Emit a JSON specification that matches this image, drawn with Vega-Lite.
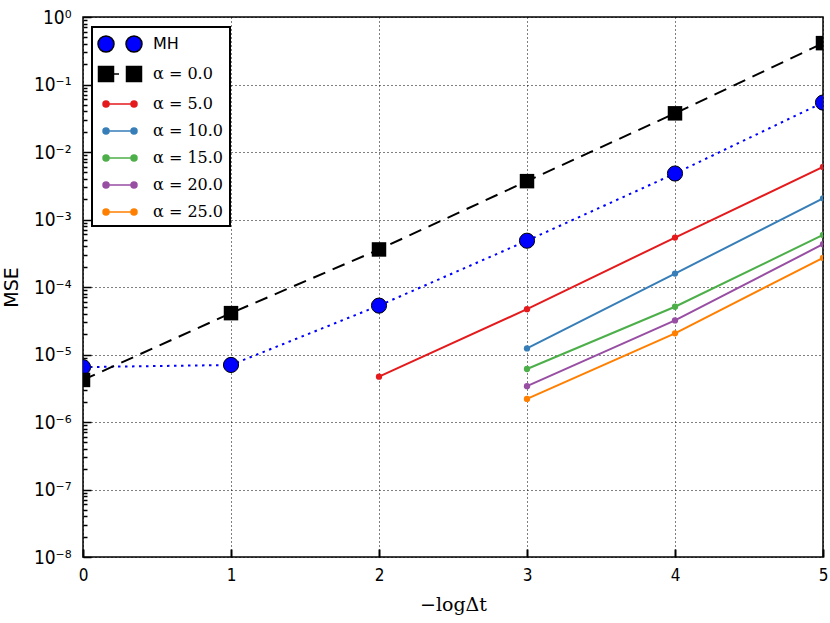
{
  "$schema": "https://vega.github.io/schema/vega-lite/v6.json",
  "width": 740,
  "height": 540,
  "autosize": "none",
  "padding": {"left": 83, "top": 17, "right": 7, "bottom": 66},
  "background": "white",
  "config": {
    "view": {"stroke": "#000", "strokeWidth": 1.5},
    "axis": {
      "domain": false,
      "gridColor": "#000",
      "gridDash": [1, 3],
      "gridOpacity": 1,
      "gridWidth": 1,
      "tickColor": "#000",
      "labelColor": "#000",
      "labelFont": "DejaVu Sans Condensed, DejaVu Sans",
      "titleColor": "#000",
      "titleFontWeight": "normal"
    }
  },
  "data": {
    "values": [
      {"series": "MH", "x": 0, "mse": 6.5e-6},
      {"series": "MH", "x": 1, "mse": 7.0e-6},
      {"series": "MH", "x": 2, "mse": 5.3e-5},
      {"series": "MH", "x": 3, "mse": 4.85e-4},
      {"series": "MH", "x": 4, "mse": 4.8e-3},
      {"series": "MH", "x": 5, "mse": 0.054},
      {"series": "α=0.0", "x": 0, "mse": 4.2e-6},
      {"series": "α=0.0", "x": 1, "mse": 4.1e-5},
      {"series": "α=0.0", "x": 2, "mse": 3.6e-4},
      {"series": "α=0.0", "x": 3, "mse": 3.7e-3},
      {"series": "α=0.0", "x": 4, "mse": 0.0374},
      {"series": "α=0.0", "x": 5, "mse": 0.41},
      {"series": "α=5.0", "x": 2, "mse": 4.7e-6},
      {"series": "α=5.0", "x": 3, "mse": 4.7e-5},
      {"series": "α=5.0", "x": 4, "mse": 5.4e-4},
      {"series": "α=5.0", "x": 5, "mse": 6.0e-3},
      {"series": "α=10.0", "x": 3, "mse": 1.23e-5},
      {"series": "α=10.0", "x": 4, "mse": 1.58e-4},
      {"series": "α=10.0", "x": 5, "mse": 2.06e-3},
      {"series": "α=15.0", "x": 3, "mse": 6.1e-6},
      {"series": "α=15.0", "x": 4, "mse": 5.1e-5},
      {"series": "α=15.0", "x": 5, "mse": 5.9e-4},
      {"series": "α=20.0", "x": 3, "mse": 3.4e-6},
      {"series": "α=20.0", "x": 4, "mse": 3.2e-5},
      {"series": "α=20.0", "x": 5, "mse": 4.3e-4},
      {"series": "α=25.0", "x": 3, "mse": 2.2e-6},
      {"series": "α=25.0", "x": 4, "mse": 2.06e-5},
      {"series": "α=25.0", "x": 5, "mse": 2.7e-4}
    ]
  },
  "encoding": {
    "x": {
      "field": "x",
      "type": "quantitative",
      "scale": {"domain": [0, 5], "nice": false, "zero": false},
      "axis": {
        "title": "−logΔt",
        "titleFont": "DejaVu Serif",
        "titleFontSize": 19,
        "titlePadding": 12,
        "values": [0, 1, 2, 3, 4, 5],
        "format": "d",
        "tickSize": -8,
        "tickWidth": 2,
        "labelFontSize": 17,
        "labelPadding": 18,
        "labelFlush": false
      }
    },
    "y": {
      "field": "mse",
      "type": "quantitative",
      "scale": {"type": "log", "domain": [1e-8, 1], "nice": false},
      "axis": {
        "title": "MSE",
        "titleFont": "DejaVu Sans",
        "titleFontSize": 19,
        "titlePadding": 12,
        "tickCount": 60,
        "labelFontSize": 19,
        "labelFlush": false,
        "labelOverlap": false,
        "labelPadding": 20,
        "labelExpr": "abs(log(datum.value)/LN10 - round(log(datum.value)/LN10)) < 1e-6 ? (round(log(datum.value)/LN10) == 0 ? '10⁰' : '10⁻' + substring('0123456789⁰¹²³⁴⁵⁶⁷⁸⁹', 10 - round(log(datum.value)/LN10), 11 - round(log(datum.value)/LN10))) : ''",
        "gridOpacity": {"condition": {"test": "abs(log(datum.value)/LN10 - round(log(datum.value)/LN10)) < 1e-6", "value": 1}, "value": 0},
        "tickSize": {"condition": {"test": "abs(log(datum.value)/LN10 - round(log(datum.value)/LN10)) < 1e-6", "value": -8}, "value": -4},
        "tickWidth": 1.5
      }
    }
  },
  "layer": [
    {
      "transform": [{"filter": "datum.series == 'MH'"}],
      "mark": {"type": "line", "color": "#0000ff", "strokeWidth": 2, "strokeDash": [2.5, 4.5], "clip": true}
    },
    {
      "transform": [{"filter": "datum.series == 'α=0.0'"}],
      "mark": {"type": "line", "color": "#000000", "strokeWidth": 2, "strokeDash": [13, 8], "clip": true}
    },
    {
      "transform": [{"filter": "datum.series != 'MH' && datum.series != 'α=0.0'"}],
      "mark": {"type": "line", "strokeWidth": 2, "clip": true},
      "encoding": {
        "color": {
          "field": "series",
          "type": "nominal",
          "scale": {
            "domain": ["α=5.0", "α=10.0", "α=15.0", "α=20.0", "α=25.0"],
            "range": ["#e41a1c", "#377eb8", "#4daf4a", "#984ea3", "#ff7f00"]
          },
          "legend": null
        }
      }
    },
    {
      "transform": [{"filter": "datum.series == 'MH'"}],
      "mark": {"type": "point", "shape": "circle", "filled": true, "size": 230, "fill": "#0000ff", "stroke": "#000", "strokeWidth": 1, "opacity": 1, "clip": true}
    },
    {
      "transform": [{"filter": "datum.series == 'α=0.0'"}],
      "mark": {"type": "point", "shape": "square", "filled": true, "size": 210, "fill": "#000", "opacity": 1, "clip": true}
    },
    {
      "transform": [{"filter": "datum.series != 'MH' && datum.series != 'α=0.0'"}],
      "mark": {"type": "point", "shape": "circle", "filled": true, "size": 40, "opacity": 1, "clip": true},
      "encoding": {
        "color": {"field": "series", "type": "nominal", "legend": null}
      }
    },
    {
      "mark": {"type": "point", "size": 400, "opacity": 0, "strokeWidth": 1.5},
      "encoding": {
        "fill": {
          "field": "series",
          "type": "nominal",
          "scale": {
            "domain": ["MH", "α=0.0", "α=5.0", "α=10.0", "α=15.0", "α=20.0", "α=25.0"],
            "range": ["#0000ff", "#000000", "#e41a1c", "#377eb8", "#4daf4a", "#984ea3", "#ff7f00"]
          },
          "legend": {
            "title": null,
            "orient": "none",
            "legendX": 9,
            "legendY": 10,
            "strokeColor": "#000",
            "fillColor": "white",
            "padding": 6,
            "rowPadding": 8,
            "symbolSize": 400,
            "symbolStrokeWidth": 1.5,
            "symbolOpacity": 1,
            "labelOffset": 33,
            "labelFont": "DejaVu Serif",
            "labelFontSize": 16,
            "labelColor": "#000",
            "labelExpr": "replace(datum.label, '=', ' = ')",
            "encode": {
              "legend": {"update": {"strokeWidth": {"value": 2}}},
              "labels": {"update": {"font": {"signal": "datum.value == 'MH' ? 'DejaVu Sans' : 'DejaVu Serif'"}}}
            }
          }
        },
        "stroke": {
          "field": "series",
          "type": "nominal",
          "scale": {
            "domain": ["MH", "α=0.0", "α=5.0", "α=10.0", "α=15.0", "α=20.0", "α=25.0"],
            "range": ["#000000", "#000000", "#e41a1c", "#377eb8", "#4daf4a", "#984ea3", "#ff7f00"]
          }
        },
        "shape": {
          "field": "series",
          "type": "nominal",
          "scale": {
            "domain": ["MH", "α=0.0", "α=5.0", "α=10.0", "α=15.0", "α=20.0", "α=25.0"],
            "range": [
              "M0.5,0A0.8,0.8,0,1,1,-1.1,0A0.8,0.8,0,1,1,0.5,0Z M3.3,0A0.8,0.8,0,1,1,1.7,0A0.8,0.8,0,1,1,3.3,0Z",
              "M-1.05,-0.75L0.45,-0.75L0.45,0.75L-1.05,0.75Z M1.75,-0.75L3.25,-0.75L3.25,0.75L1.75,0.75Z M0.45,0L1.0,0",
              "M-0.3,0L2.5,0 M0,0A0.3,0.3,0,1,1,-0.6,0A0.3,0.3,0,1,1,0,0Z M2.8,0A0.3,0.3,0,1,1,2.2,0A0.3,0.3,0,1,1,2.8,0Z",
              "M-0.3,0L2.5,0 M0,0A0.3,0.3,0,1,1,-0.6,0A0.3,0.3,0,1,1,0,0Z M2.8,0A0.3,0.3,0,1,1,2.2,0A0.3,0.3,0,1,1,2.8,0Z",
              "M-0.3,0L2.5,0 M0,0A0.3,0.3,0,1,1,-0.6,0A0.3,0.3,0,1,1,0,0Z M2.8,0A0.3,0.3,0,1,1,2.2,0A0.3,0.3,0,1,1,2.8,0Z",
              "M-0.3,0L2.5,0 M0,0A0.3,0.3,0,1,1,-0.6,0A0.3,0.3,0,1,1,0,0Z M2.8,0A0.3,0.3,0,1,1,2.2,0A0.3,0.3,0,1,1,2.8,0Z",
              "M-0.3,0L2.5,0 M0,0A0.3,0.3,0,1,1,-0.6,0A0.3,0.3,0,1,1,0,0Z M2.8,0A0.3,0.3,0,1,1,2.2,0A0.3,0.3,0,1,1,2.8,0Z"
            ]
          }
        }
      }
    }
  ]
}
